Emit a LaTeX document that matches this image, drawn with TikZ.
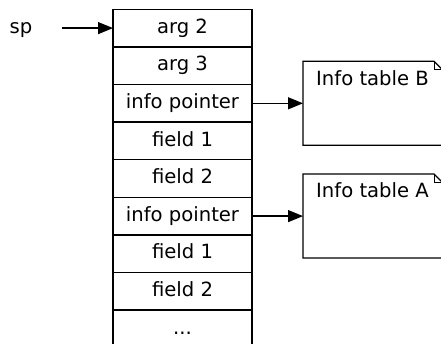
\documentclass[tikz,border=0pt]{standalone}
\usepackage{fontspec}
\setmainfont{DejaVu Sans}
\usetikzlibrary{arrows.meta}

\tikzset{
  txt/.style = {text height=15pt, text depth=4.6pt},
  cell/.style = {txt, draw, line width=1.25pt, minimum width=139pt,
                 minimum height=37.6pt, inner sep=0pt, outer sep=0pt},
  notebox/.style = {minimum width=139pt, inner xsep=0pt, inner ysep=8.8pt,
                    text height=15pt, text depth=51.4pt, outer sep=0pt},
  ptr/.style = {line width=1.25pt, -{Triangle[length=15pt,width=12pt]}}
}

\begin{document}
\begin{tikzpicture}[%
        x = 1pt, y = -1pt,
        font = \fontsize{19.6}{23}\selectfont
    ]
      \useasboundingbox (0,0) rectangle (441,344);
      % the stack
      \node[cell] (arga) at (182.5,28.1) {arg 2};
      \node[cell] (argb) at (182.5,65.7) {arg 3};
      \node[cell] (ptrB) at (182.5,103.3) {info pointer};
      \node[cell] (fldBa) at (182.5,140.9) {field 1};
      \node[cell] (fldBb) at (182.5,178.5) {field 2};
      \node[cell] (ptrA) at (182.5,216.1) {info pointer};
      \node[cell] (fldAa) at (182.5,253.7) {field 1};
      \node[cell] (fldAb) at (182.5,291.3) {field 2};
      \node[cell] (more) at (182.5,328.9) {...};
      % stack pointer
      \node[txt] (sp) at (21,28.1) {sp};
      \coordinate (sptail) at (62,28.1);
      \draw[ptr] (sptail) -- (arga.west);
      % info tables
      \node[notebox] (noteB) at (372.5,103.3) {Info table B};
      \node[notebox] (noteA) at (372.5,216.1) {Info table A};
      \foreach \n in {noteB,noteA} {
        \draw[line width=1.25pt] (\n.north west) -- ([xshift=-8pt]\n.north east)
          -- ([yshift=-8pt]\n.north east) -- (\n.south east) -- (\n.south west) -- cycle;
        \draw[line width=0.8pt] ([xshift=-8pt]\n.north east) |- ([yshift=-8pt]\n.north east);
      }
      \draw[ptr] (ptrB.east) -- (noteB.west);
      \draw[ptr] (ptrA.east) -- (noteA.west);
    \end{tikzpicture}
\end{document}
